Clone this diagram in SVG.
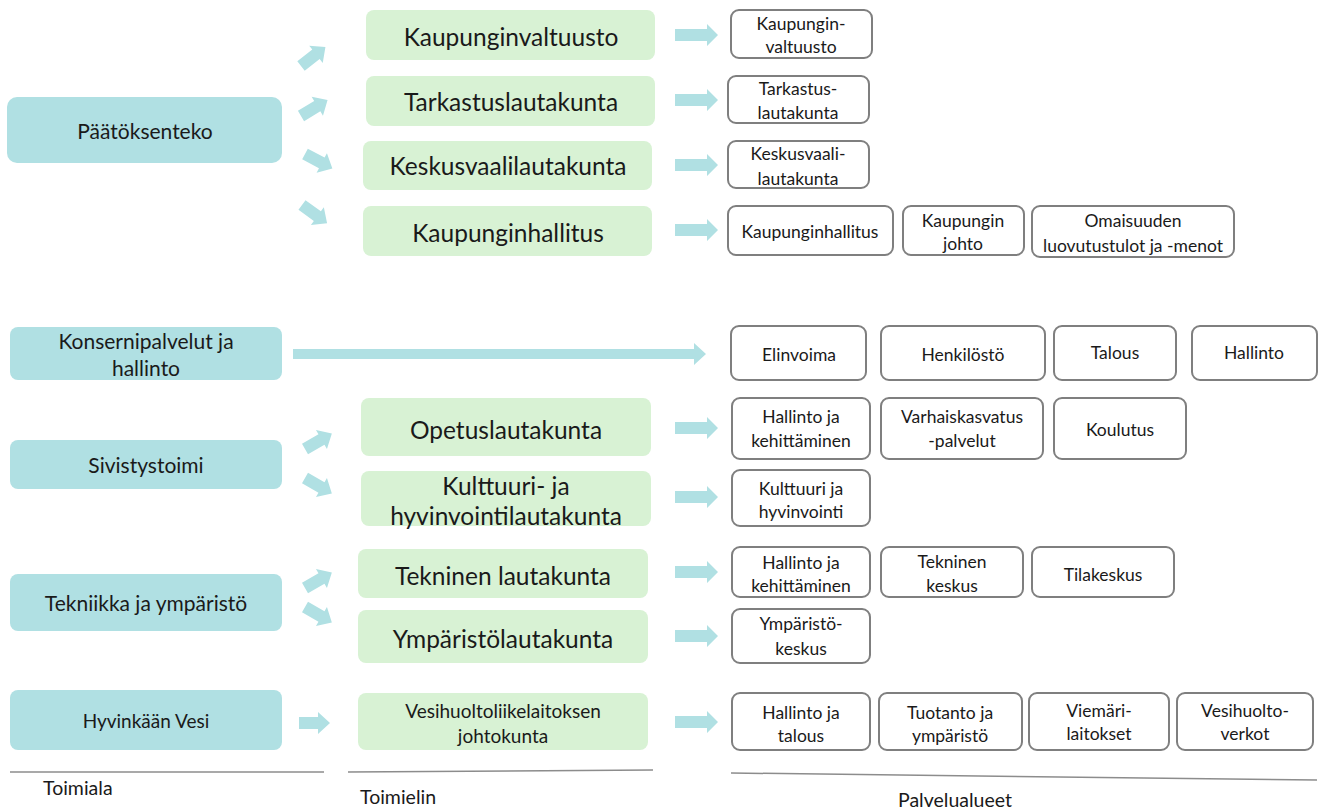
<svg xmlns="http://www.w3.org/2000/svg" xmlns:xlink="http://www.w3.org/1999/xlink" width="1320" height="809" viewBox="0 0 1320 809">
<style>
.teal{fill:#B0E0E3;}
.green{fill:#D8F2D4;}
.box{fill:#FFFFFF;stroke:#7F7F7F;stroke-width:2;}
.arr{fill:#B0E0E3;}
text{font-family:Lato,"Open Sans","Liberation Sans",sans-serif;fill:#1A1A1A;dominant-baseline:central;text-anchor:middle;}
.t1{font-size:21px;}
.t2{font-size:24.5px;}
.t3{font-size:17.5px;}
.t4{font-size:19px;}
.lbl{font-size:19.5px;text-anchor:start;}
.rule{stroke:#8C8C8C;stroke-width:1.5;fill:none;}
</style>
<defs>
<path id="harr" d="M0,-6 H32 V-11 L43,0 L32,11 V6 H0 Z"/>
<path id="darr" d="M0,-6 H19 V-11 L31,0 L19,11 V6 H0 Z"/>
</defs>

<rect width="1320" height="809" fill="#FFFFFF"/>

<!-- Toimiala nodes -->
<g id="n-paatoksenteko"><rect class="teal" x="7" y="97" width="275" height="66" rx="10"/><text class="t1" x="145" y="130">Päätöksenteko</text></g>
<g id="n-konserni"><rect class="teal" x="10" y="327" width="272" height="53" rx="8"/><text class="t1" x="146" y="340">Konsernipalvelut ja</text><text class="t1" x="146" y="367">hallinto</text></g>
<g id="n-sivistys"><rect class="teal" x="10" y="440" width="272" height="49" rx="8"/><text class="t1" x="146" y="464">Sivistystoimi</text></g>
<g id="n-tekniikka"><rect class="teal" x="10" y="574" width="272" height="57" rx="8"/><text class="t1" x="146" y="602">Tekniikka ja ympäristö</text></g>
<g id="n-vesi"><rect class="teal" x="10" y="690" width="272" height="60" rx="8"/><text class="t4" x="146" y="720">Hyvinkään Vesi</text></g>

<!-- Toimielin nodes -->
<g id="n-kv"><rect class="green" x="366" y="10" width="289" height="50" rx="8"/><text class="t2" x="511" y="36">Kaupunginvaltuusto</text></g>
<g id="n-tark"><rect class="green" x="366" y="76" width="289" height="50" rx="8"/><text class="t2" x="511" y="101">Tarkastuslautakunta</text></g>
<g id="n-ksvl"><rect class="green" x="363" y="141" width="289" height="49" rx="8"/><text class="t2" x="508" y="165">Keskusvaalilautakunta</text></g>
<g id="n-kh"><rect class="green" x="363" y="206" width="289" height="50" rx="8"/><text class="t2" x="508" y="232">Kaupunginhallitus</text></g>
<g id="n-opetus"><rect class="green" x="361" y="398" width="290" height="58" rx="8"/><text class="t2" x="506" y="429">Opetuslautakunta</text></g>
<g id="n-kulttuuri"><rect class="green" x="361" y="471" width="290" height="55" rx="8"/><text class="t2" x="506" y="485">Kulttuuri- ja</text><text class="t2" x="506" y="515">hyvinvointilautakunta</text></g>
<g id="n-tekninen"><rect class="green" x="358" y="549" width="290" height="49" rx="8"/><text class="t2" x="503" y="575">Tekninen lautakunta</text></g>
<g id="n-ymparisto"><rect class="green" x="358" y="610" width="290" height="53" rx="8"/><text class="t2" x="503" y="638">Ympäristölautakunta</text></g>
<g id="n-johtokunta"><rect class="green" x="358" y="693" width="290" height="57" rx="8"/><text class="t4" x="503" y="710">Vesihuoltoliikelaitoksen</text><text class="t4" x="503" y="735">johtokunta</text></g>

<!-- Palvelualueet nodes -->
<g id="p-kv"><rect class="box" x="731" y="10" width="141" height="48" rx="8"/><text class="t3" x="801" y="23">Kaupungin-</text><text class="t3" x="801" y="46">valtuusto</text></g>
<g id="p-tark"><rect class="box" x="728" y="76" width="141" height="47" rx="8"/><text class="t3" x="798" y="88">Tarkastus-</text><text class="t3" x="798" y="112">lautakunta</text></g>
<g id="p-ksvl"><rect class="box" x="728" y="141" width="141" height="47" rx="8"/><text class="t3" x="798" y="153">Keskusvaali-</text><text class="t3" x="798" y="178">lautakunta</text></g>
<g id="p-kh"><rect class="box" x="728" y="206" width="165" height="49" rx="8"/><text class="t3" x="810" y="231">Kaupunginhallitus</text></g>
<g id="p-johto"><rect class="box" x="903" y="206" width="121" height="49" rx="8"/><text class="t3" x="963" y="220">Kaupungin</text><text class="t3" x="963" y="243">johto</text></g>
<g id="p-omaisuus"><rect class="box" x="1032" y="206" width="202" height="51" rx="8"/><text class="t3" x="1133" y="220">Omaisuuden</text><text class="t3" x="1133" y="245">luovutustulot ja -menot</text></g>

<g id="p-elinvoima"><rect class="box" x="731" y="326" width="135" height="54" rx="8"/><text class="t3" x="799" y="354">Elinvoima</text></g>
<g id="p-henkilosto"><rect class="box" x="881" y="326" width="164" height="54" rx="8"/><text class="t3" x="963" y="354">Henkilöstö</text></g>
<g id="p-talous"><rect class="box" x="1054" y="326" width="122" height="54" rx="8"/><text class="t3" x="1115" y="352">Talous</text></g>
<g id="p-hallinto"><rect class="box" x="1192" y="326" width="125" height="54" rx="8"/><text class="t3" x="1254" y="352">Hallinto</text></g>

<g id="p-sivhallinto"><rect class="box" x="732" y="398" width="138" height="61" rx="8"/><text class="t3" x="801" y="416">Hallinto ja</text><text class="t3" x="801" y="440">kehittäminen</text></g>
<g id="p-varhais"><rect class="box" x="881" y="398" width="162" height="61" rx="8"/><text class="t3" x="962" y="416">Varhaiskasvatus</text><text class="t3" x="962" y="440">-palvelut</text></g>
<g id="p-koulutus"><rect class="box" x="1054" y="398" width="132" height="61" rx="8"/><text class="t3" x="1120" y="429">Koulutus</text></g>
<g id="p-kulttuuri"><rect class="box" x="732" y="470" width="138" height="56" rx="8"/><text class="t3" x="801" y="488">Kulttuuri ja</text><text class="t3" x="801" y="511">hyvinvointi</text></g>

<g id="p-tekhallinto"><rect class="box" x="732" y="547" width="138" height="50" rx="8"/><text class="t3" x="801" y="562">Hallinto ja</text><text class="t3" x="801" y="585">kehittäminen</text></g>
<g id="p-teknkeskus"><rect class="box" x="881" y="547" width="142" height="50" rx="8"/><text class="t3" x="952" y="561">Tekninen</text><text class="t3" x="952" y="585">keskus</text></g>
<g id="p-tilakeskus"><rect class="box" x="1032" y="547" width="142" height="50" rx="8"/><text class="t3" x="1103" y="574">Tilakeskus</text></g>
<g id="p-ymparistokeskus"><rect class="box" x="732" y="609" width="138" height="54" rx="8"/><text class="t3" x="801" y="623">Ympäristö-</text><text class="t3" x="801" y="648">keskus</text></g>

<g id="p-vhallinto"><rect class="box" x="732" y="693" width="138" height="57" rx="8"/><text class="t3" x="801" y="712">Hallinto ja</text><text class="t3" x="801" y="735">talous</text></g>
<g id="p-tuotanto"><rect class="box" x="879" y="693" width="143" height="57" rx="8"/><text class="t3" x="950" y="712">Tuotanto ja</text><text class="t3" x="950" y="735">ympäristö</text></g>
<g id="p-viemari"><rect class="box" x="1029" y="693" width="140" height="57" rx="8"/><text class="t3" x="1099" y="710">Viemäri-</text><text class="t3" x="1099" y="733">laitokset</text></g>
<g id="p-verkot"><rect class="box" x="1177" y="693" width="136" height="57" rx="8"/><text class="t3" x="1245" y="710">Vesihuolto-</text><text class="t3" x="1245" y="733">verkot</text></g>

<!-- Connectors -->
<g id="connectors" class="arr">
<use href="#darr" transform="translate(301,66) rotate(-38)"/>
<use href="#darr" transform="translate(301,116) rotate(-31)"/>
<use href="#darr" transform="translate(305,154) rotate(28)"/>
<use href="#darr" transform="translate(302,205) rotate(36)"/>
<use href="#darr" transform="translate(305,449) rotate(-30)"/>
<use href="#darr" transform="translate(305,478) rotate(30)"/>
<use href="#darr" transform="translate(305,588) rotate(-30)"/>
<use href="#darr" transform="translate(305,607) rotate(30)"/>
<path d="M299,717 H318 V712 L330,723 L318,734 V729 H299 Z"/>
<use href="#harr" transform="translate(675,35)"/>
<use href="#harr" transform="translate(675,100)"/>
<use href="#harr" transform="translate(675,165)"/>
<use href="#harr" transform="translate(675,230)"/>
<use href="#harr" transform="translate(675,428)"/>
<use href="#harr" transform="translate(675,497)"/>
<use href="#harr" transform="translate(675,572)"/>
<use href="#harr" transform="translate(675,636)"/>
<use href="#harr" transform="translate(675,722)"/>
<path d="M293,349 H694 V343 L706,354 L694,365 V359 H293 Z"/>
</g>

<!-- Column rules and labels -->
<g id="legend">
<line class="rule" x1="10" y1="772" x2="324" y2="772"/>
<line class="rule" x1="348" y1="772" x2="653" y2="770"/>
<line class="rule" x1="731" y1="773" x2="1317" y2="780"/>
<text class="lbl" x="43" y="787">Toimiala</text>
<text class="lbl" x="360" y="796">Toimielin</text>
<text class="lbl" x="898" y="799">Palvelualueet</text>
</g>
</svg>
